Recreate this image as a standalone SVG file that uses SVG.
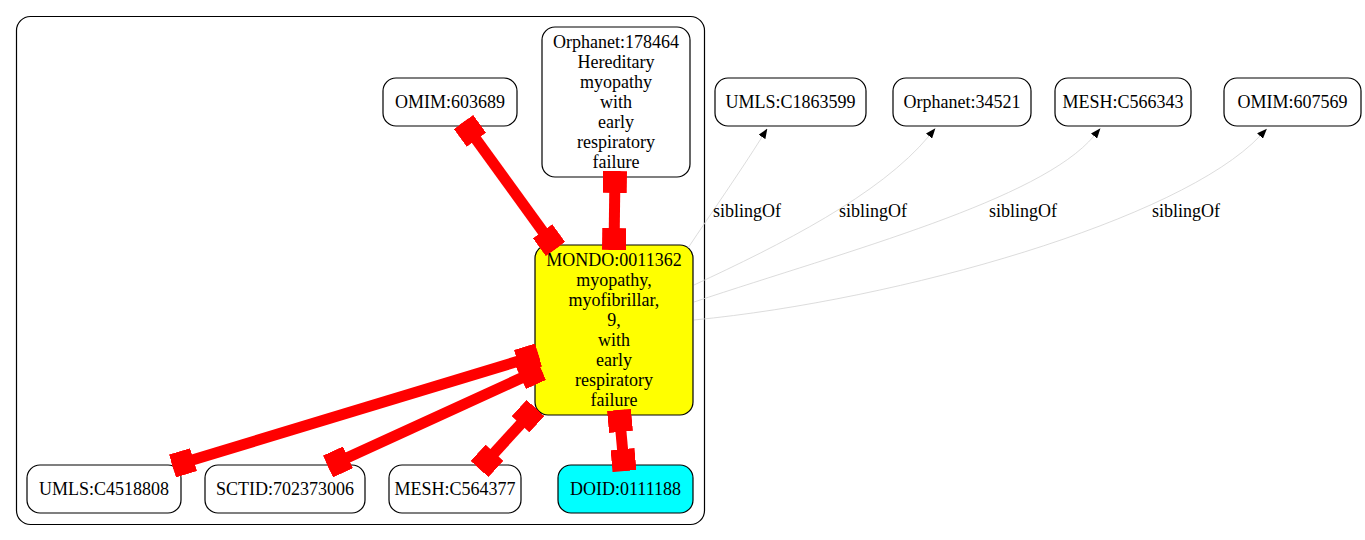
<svg xmlns="http://www.w3.org/2000/svg" width="1365" height="540" viewBox="0 0 1365 540">
<style>
.n{fill:#fff;stroke:#000;stroke-width:1.2}
text{font-family:"Liberation Serif","Times New Roman",serif;font-size:18px;text-anchor:middle;fill:#000}
.r{fill:none;stroke:#ff0000;stroke-width:11;marker-start:url(#box);marker-end:url(#box)}
.s{fill:none;stroke:#d3d3d3;stroke-width:0.8;marker-end:url(#arr)}
</style>
<defs>
<marker id="box" viewBox="0 0 22 24" refX="22" refY="12" markerWidth="22" markerHeight="24" markerUnits="userSpaceOnUse" orient="auto-start-reverse"><rect width="22" height="24" fill="#ff0000"/></marker>
<marker id="arr" viewBox="0 0 10 8" refX="0" refY="4" markerWidth="10" markerHeight="8" markerUnits="userSpaceOnUse" orient="auto"><path d="M0,0 L10,4 L0,8 Z" fill="#000"/></marker>
</defs>
<rect width="1365" height="540" fill="#fff"/>
<rect x="16.5" y="16.5" width="688" height="508" rx="14" fill="none" stroke="#000" stroke-width="1.2"/>
<g id="n_omim603689"><rect class="n" x="383" y="78" width="134" height="48" rx="13"/><text x="450" y="108">OMIM:603689</text></g>
<g id="n_orphanet178464"><rect class="n" x="542" y="27" width="148" height="150" rx="13"/><text x="616" y="48">Orphanet:178464</text><text x="616" y="68">Hereditary</text><text x="616" y="88">myopathy</text><text x="616" y="108">with</text><text x="616" y="128">early</text><text x="616" y="148">respiratory</text><text x="616" y="168">failure</text></g>
<g id="n_mondo"><rect class="n" x="535" y="245" width="158" height="170" rx="13" style="fill:#ffff00"/><text x="614" y="266">MONDO:0011362</text><text x="614" y="286">myopathy,</text><text x="614" y="306">myofibrillar,</text><text x="614" y="326">9,</text><text x="614" y="346">with</text><text x="614" y="366">early</text><text x="614" y="386">respiratory</text><text x="614" y="406">failure</text></g>
<g id="n_umls4518808"><rect class="n" x="27" y="465" width="154" height="48" rx="13"/><text x="104" y="495">UMLS:C4518808</text></g>
<g id="n_sctid"><rect class="n" x="205" y="465" width="160" height="48" rx="13"/><text x="285" y="495">SCTID:702373006</text></g>
<g id="n_mesh564377"><rect class="n" x="389" y="465" width="132" height="48" rx="13"/><text x="455" y="495">MESH:C564377</text></g>
<g id="n_doid"><rect class="n" x="558" y="465" width="135" height="48" rx="13" style="fill:#00ffff"/><text x="625.5" y="495">DOID:0111188</text></g>
<g id="n_umls1863599"><rect class="n" x="715" y="78" width="151" height="48" rx="13"/><text x="790.5" y="108">UMLS:C1863599</text></g>
<g id="n_orphanet34521"><rect class="n" x="893" y="78" width="138" height="48" rx="13"/><text x="962" y="108">Orphanet:34521</text></g>
<g id="n_mesh566343"><rect class="n" x="1055" y="78" width="136" height="48" rx="13"/><text x="1123" y="108">MESH:C566343</text></g>
<g id="n_omim607569"><rect class="n" x="1224" y="78" width="137" height="48" rx="13"/><text x="1292.5" y="108">OMIM:607569</text></g>
<g id="edges">
<path class="r" d="M463.5,122 L555.5,249"/>
<path class="r" d="M615,171 L614,250"/>
<path class="r" d="M538.5,355 L172.5,466"/>
<path class="r" d="M541,369 L328,466.5"/>
<path class="r" d="M535.4,408 L479.6,469"/>
<path class="r" d="M619,410 L624.5,471"/>
<path class="s" d="M688,248 C712,212 740,172 762,137"/>
<path class="s" d="M694,285 C780,245 880,195 929,136"/>
<path class="s" d="M694,302 C850,250 1040,200 1094,136"/>
<path class="s" d="M694,320 C900,300 1180,220 1260,136"/>
<text x="747" y="217">siblingOf</text>
<text x="873" y="217">siblingOf</text>
<text x="1023" y="217">siblingOf</text>
<text x="1186" y="217">siblingOf</text>
</g>
</svg>
